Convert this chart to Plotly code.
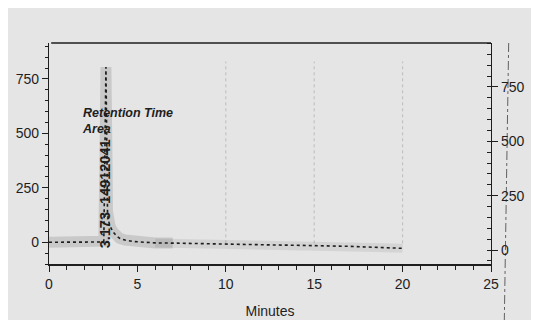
import plotly.graph_objects as go

# Chromatogram data (minutes, signal)
time_min = [0, 0.5, 1, 1.5, 2, 2.5, 3.0, 3.1, 3.17, 3.22, 3.27, 3.31, 3.36, 3.45, 3.6, 3.8, 4.0, 4.3,
            4.8, 5.5, 6, 7, 8, 9, 10, 11, 12, 13, 14, 15, 16, 17, 18, 19, 20]
signal = [0, 0, 0, 0, 0, 0, 1, 5, 420, 805, 450, 140, 100, 75, 50, 30, 18, 10,
          3, -2, -3, -4, -6, -8, -10, -11, -12, -13, -14, -15, -17, -19, -22, -25, -28]

# Faint dotted vertical event marks
mark_times = [10, 15, 20]
mark_span = [-5, 830]

x_ticks = [0, 5, 10, 15, 20, 25]
y_ticks = [0, 250, 500, 750]

BG = "#e5e5e5"
INK = "#1e1e1e"
FONT = "Liberation Sans, Arial, sans-serif"

fig = go.Figure()

# Scanner smear band along the trace
fig.add_trace(go.Scatter(x=time_min[:22], y=signal[:22], mode="lines",
                         line=dict(color="rgba(0,0,0,0.12)", width=11),
                         hoverinfo="skip", showlegend=False))
fig.add_trace(go.Scatter(x=time_min[20:], y=signal[20:], mode="lines",
                         line=dict(color="rgba(0,0,0,0.07)", width=9),
                         hoverinfo="skip", showlegend=False))

for t in mark_times:
    fig.add_trace(go.Scatter(x=[t, t], y=mark_span, mode="lines",
                             line=dict(color="rgba(40,40,40,0.22)", width=1, dash="dot"),
                             hoverinfo="skip", showlegend=False))

fig.add_trace(go.Scatter(x=time_min, y=signal, mode="lines",
                         line=dict(color=INK, width=1.6, dash="dot"),
                         showlegend=False))

# invisible trace for right axis
fig.add_trace(go.Scatter(x=[0], y=[0], yaxis="y2", mode="markers",
                         marker=dict(opacity=0), hoverinfo="skip", showlegend=False))

fig.add_annotation(x=1.75, y=557, xref="x", yref="y", xanchor="left", yanchor="middle",
                   text="<b><i>Retention Time<br>Area</i></b>", showarrow=False, align="left",
                   font=dict(size=12.5, color=INK, family=FONT))
fig.add_annotation(x=3.18, y=221, xref="x", yref="y", textangle=-90,
                   text="<b>3.173  14912041</b>", showarrow=False,
                   font=dict(size=14.5, color=INK, family=FONT))

# scan artifact line at far right
fig.add_shape(type="line", xref="paper", yref="paper", x0=1.04, y0=1.0, x1=1.03, y1=-0.27,
              line=dict(color="rgba(40,40,40,0.7)", width=1, dash="dashdot"))

fig.update_layout(
    width=539, height=320,
    paper_bgcolor=BG, plot_bgcolor=BG,
    margin=dict(l=41, r=56, t=35, b=64, autoexpand=False),
    font=dict(family=FONT, size=14, color=INK),
    xaxis=dict(range=[0, 25], tickvals=x_ticks, showgrid=False, zeroline=False, automargin=False,
               showline=True, linecolor=INK, linewidth=1.5, mirror=False,
               ticks="outside", ticklen=6, tickcolor=INK,
               minor=dict(dtick=1, ticks="outside", ticklen=4, tickcolor=INK),
               title=dict(text="Minutes", font=dict(size=14), standoff=16)),
    yaxis=dict(range=[-100, 915], tickvals=y_ticks, showgrid=False, zeroline=False, automargin=False,
               showline=True, linecolor=INK, linewidth=1.2,
               ticks="outside", ticklen=6, tickcolor=INK,
               minor=dict(dtick=50, ticks="outside", ticklen=3, tickcolor=INK)),
    yaxis2=dict(range=[-64, 952], tickvals=y_ticks, overlaying="y", side="right", automargin=False,
                showgrid=False, zeroline=False, showline=True, linecolor=INK, linewidth=1.2,
                ticks="outside", ticklen=6, tickcolor=INK,
                minor=dict(dtick=50, ticks="inside", ticklen=4, tickcolor=INK)),
)

# top frame line
fig.add_shape(type="line", xref="paper", yref="paper", x0=0.005, y0=1, x1=1, y1=1,
              line=dict(color=INK, width=1.5))

fig.write_html("out.html")
